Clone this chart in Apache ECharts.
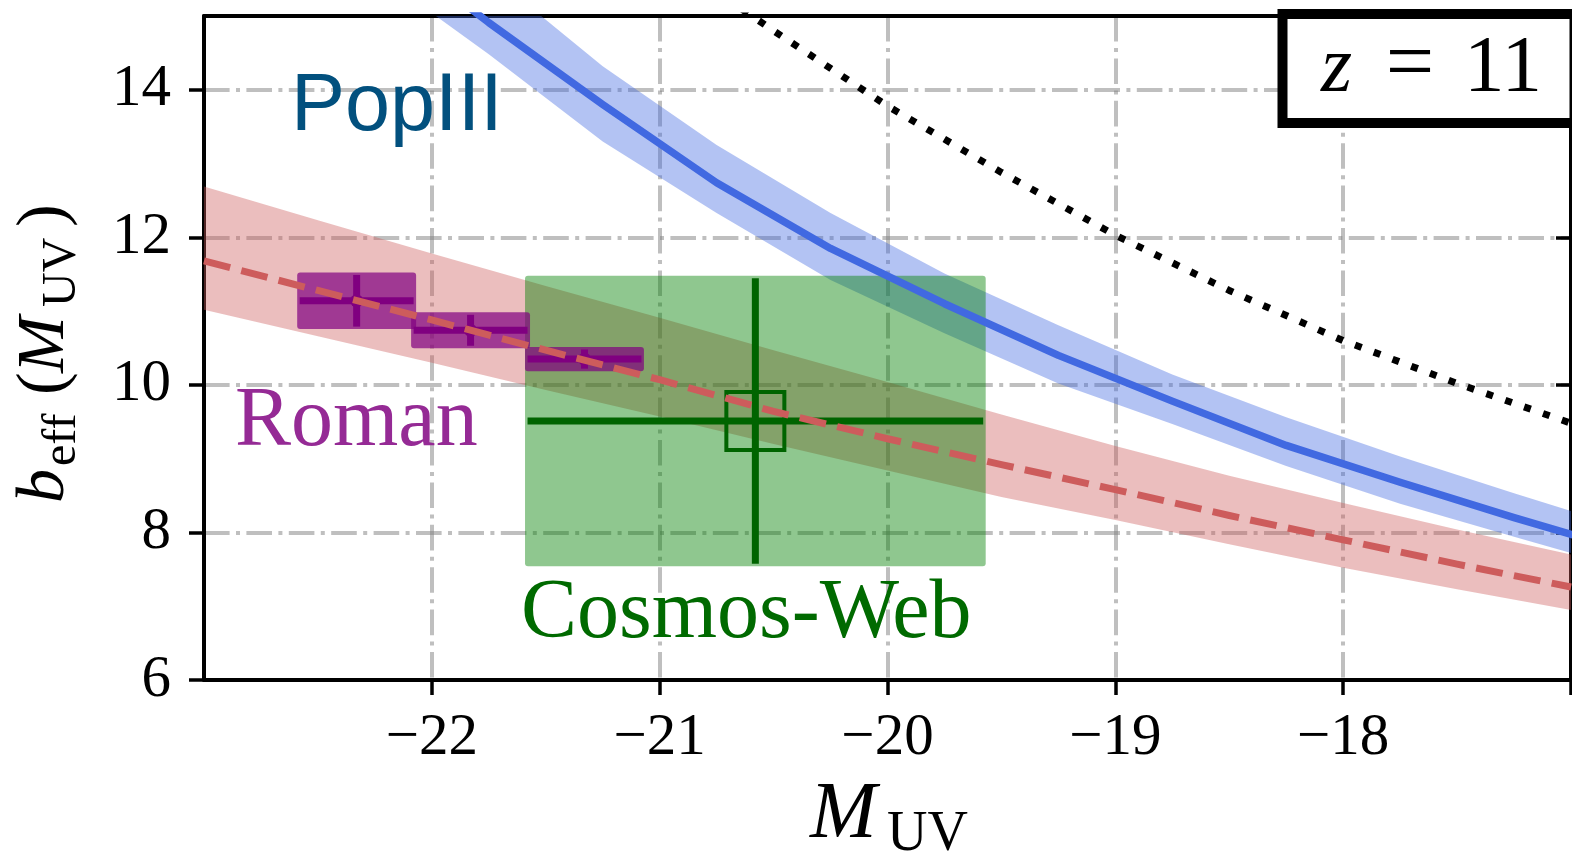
<!DOCTYPE html>
<html>
<head>
<meta charset="utf-8">
<script src="https://cdn.jsdelivr.net/npm/echarts@6/dist/echarts.min.js"></script>
<style>
  html, body { margin: 0; padding: 0; background: #ffffff; }
  #chart { width: 1572px; height: 854px; }
</style>
</head>
<body>
<div id="chart"></div>
<script>
// ---- PopIII model: effective bias vs M_UV with its uncertainty band ----
const popX   = [-22.25, -21.75, -21.25, -20.75, -20.25, -19.75, -19.25, -18.75, -18.25, -17.75, -17.25, -16.75];
const popMid = [16.10, 14.91, 13.80, 12.74, 11.85, 11.10, 10.40, 9.78, 9.18, 8.68, 8.20, 7.75];
const popHi  = [16.75, 15.58, 14.32, 13.25, 12.33, 11.51, 10.81, 10.14, 9.56, 9.03, 8.53, 8.05];
const popLo  = [15.60, 14.48, 13.30, 12.33, 11.42, 10.70, 10.02, 9.47, 8.90, 8.39, 7.94, 7.50];

// ---- baseline model (dashed red) with its band ----
const refX   = [-23, -22.5, -22, -21.5, -21, -20.5, -20, -19.5, -19, -18.5, -18, -17.5, -17];
const refMid = [11.68, 11.28, 10.88, 10.47, 10.07, 9.64, 9.27, 8.92, 8.58, 8.23, 7.90, 7.57, 7.26];
const refHi  = [12.69, 12.23, 11.78, 11.34, 10.91, 10.47, 10.04, 9.60, 9.17, 8.77, 8.40, 8.04, 7.70];
const refLo  = [11.02, 10.66, 10.30, 9.93, 9.57, 9.20, 8.84, 8.48, 8.17, 7.84, 7.52, 7.23, 6.95];

// ---- dotted upper curve ----
const limX = [-21.0, -20.5, -20.0, -19.5, -19.0, -18.5, -18.0, -17.5, -17.0];
const limY = [15.85, 14.80, 13.78, 12.88, 12.03, 11.28, 10.60, 10.02, 9.48];

// ---- Roman forecast points ----
const romanX    = [-22.33, -21.83, -21.33];
const romanY    = [11.14, 10.74, 10.35];
const romanXErr = [0.25, 0.25, 0.25];
const romanYErr = [0.35, 0.21, 0.13];

// ---- Cosmos-Web measurement ----
const cosmosX    = [-20.58];
const cosmosY    = [9.51];
const cosmosXErr = [1.00];
const cosmosYErr = [1.935];

// ---- axis ticks ----
const xTickValues  = [-22, -21, -20, -19, -18, -17];
const xLabelValues = [-22, -21, -20, -19, -18];
const yTickValues  = [6, 8, 10, 12, 14];

const SERIF = 'Liberation Serif';
const SANS = 'Liberation Sans';
const GRID_COLOR = 'rgba(128,128,128,0.5)';
const GRID_DASH = [25.6, 6.4, 4, 6.4];

const chart = echarts.init(document.getElementById('chart'), null, { renderer: 'canvas' });

function clipRect(params) {
  const c = params.coordSys;
  return { type: 'rect', shape: { x: c.x, y: c.y, width: c.width, height: c.height } };
}

function bandSeries(xs, lo, hi, fill, z) {
  return {
    type: 'custom', silent: true, clip: true, z: z,
    data: [[xs[0], lo[0]]],
    renderItem: function (params, api) {
      const pts = [];
      for (let i = 0; i < xs.length; i++) pts.push(api.coord([xs[i], hi[i]]));
      for (let i = xs.length - 1; i >= 0; i--) pts.push(api.coord([xs[i], lo[i]]));
      return { type: 'polygon', shape: { points: pts }, style: { fill: fill }, clipPath: clipRect(params) };
    }
  };
}

function zip4(a, b, c, d) { return a.map((v, i) => [v, b[i], c[i], d[i]]); }

// shaded rectangle spanning the error range (padded by a couple of pixels)
function boxSeries(data, fill, z) {
  return {
    type: 'custom', silent: true, clip: true, z: z,
    data: data,
    renderItem: function (params, api) {
      const x = api.value(0), y = api.value(1), ex = api.value(2), ey = api.value(3);
      const p0 = api.coord([x - ex, y + ey]);
      const p1 = api.coord([x + ex, y - ey]);
      const pad = 2.5;
      return {
        type: 'rect',
        shape: { x: p0[0] - pad, y: p0[1] - pad, width: p1[0] - p0[0] + 2 * pad, height: p1[1] - p0[1] + 2 * pad, r: 3 },
        style: { fill: fill }
      };
    }
  };
}

function errorSeries(data, color, width, squareSize, z) {
  return {
    type: 'custom', silent: true, clip: true, z: z,
    data: data,
    renderItem: function (params, api) {
      const x = api.value(0), y = api.value(1), ex = api.value(2), ey = api.value(3);
      const l = api.coord([x - ex, y]), r = api.coord([x + ex, y]);
      const t = api.coord([x, y + ey]), b = api.coord([x, y - ey]);
      const c = api.coord([x, y]);
      const st = { stroke: color, lineWidth: width, lineCap: 'butt', fill: null };
      const children = [
        { type: 'line', shape: { x1: l[0], y1: l[1], x2: r[0], y2: r[1] }, style: st },
        { type: 'line', shape: { x1: t[0], y1: t[1], x2: b[0], y2: b[1] }, style: st }
      ];
      if (squareSize) {
        children.push({
          type: 'rect',
          shape: { x: c[0] - squareSize / 2, y: c[1] - squareSize / 2, width: squareSize, height: squareSize },
          style: { stroke: color, lineWidth: 4, fill: null }
        });
      } else {
        children.push({ type: 'circle', shape: { cx: c[0], cy: c[1], r: 6.5 }, style: { fill: color } });
      }
      return { type: 'group', children: children };
    }
  };
}

function lineSeries(xs, ys, color, width, dash, z) {
  return {
    type: 'line', silent: true, clip: true, z: z,
    data: xs.map((x, i) => [x, ys[i]]),
    showSymbol: false, symbol: 'none', smooth: false,
    lineStyle: { color: color, width: width, type: dash, cap: 'butt', join: 'round' },
    emphasis: { disabled: true }
  };
}

// text placed by its baseline (canvas 'middle' sits ~0.305 em above the baseline)
function txt(text, left, baseline, size, family, color, italic, align) {
  return {
    type: 'text', x: left, y: baseline - 0.305 * size, z: 100,
    style: {
      text: text, fill: color,
      font: (italic ? 'italic ' : '') + size + 'px "' + family + '"',
      textAlign: align || 'left', textVerticalAlign: 'middle'
    }
  };
}

const F_Y = 68, F_YS = 48;
const yTitle = {
  type: 'group', x: 66, y: 503, rotation: Math.PI / 2, z: 100,
  children: [
    txt('b', 0, 0, F_Y, SERIF, '#000', true),
    txt('eff', 37, 11, F_YS, SERIF, '#000', false),
    txt('(', 108, 0, F_Y, SERIF, '#000', false),
    txt('M', 130, 0, F_Y, SERIF, '#000', true),
    txt('UV', 196, 11, F_YS, SERIF, '#000', false),
    txt(')', 276, 0, F_Y, SERIF, '#000', false)
  ]
};

const option = {
  animation: false,
  backgroundColor: '#ffffff',
  grid: { left: 204, right: 1, top: 16, bottom: 174, containLabel: false },
  xAxis: [
    {
      type: 'value', min: -23, max: -17, interval: 1, position: 'bottom',
      axisLine: { show: true, onZero: false, lineStyle: { color: '#000', width: 4 } },
      axisTick: { show: true, inside: false, length: 15, customValues: xTickValues, lineStyle: { color: '#000', width: 3.5 } },
      axisLabel: {
        show: true, margin: 29, customValues: xLabelValues,
        fontFamily: SERIF, fontSize: 59, color: '#000',
        formatter: function (v) { return (v < 0 ? '\u2212' : '') + Math.abs(v); }
      },
      splitLine: { show: true, lineStyle: { color: GRID_COLOR, width: 4, type: GRID_DASH } }
    },
    {
      type: 'value', min: -23, max: -17, interval: 1, position: 'top',
      axisLine: { show: true, onZero: false, lineStyle: { color: '#000', width: 4 } },
      axisTick: { show: false }, axisLabel: { show: false }, splitLine: { show: false }
    }
  ],
  yAxis: [
    {
      type: 'value', min: 6, max: 15, interval: 2, position: 'left',
      axisLine: { show: true, onZero: false, lineStyle: { color: '#000', width: 4 } },
      axisTick: { show: true, inside: false, length: 15, customValues: yTickValues, lineStyle: { color: '#000', width: 3.5 } },
      axisLabel: {
        show: true, margin: 33, customValues: yTickValues,
        fontFamily: SERIF, fontSize: 59, color: '#000'
      },
      splitLine: { show: true, lineStyle: { color: GRID_COLOR, width: 4, type: GRID_DASH } }
    },
    {
      type: 'value', min: 6, max: 15, interval: 2, position: 'right',
      axisLine: { show: true, onZero: false, lineStyle: { color: '#000', width: 4 } },
      axisTick: { show: true, inside: true, length: 15, customValues: yTickValues, lineStyle: { color: '#000', width: 3.5 } },
      axisLabel: { show: false }, splitLine: { show: false }
    }
  ],
  series: [
    bandSeries(refX, refLo, refHi, 'rgba(205,92,92,0.4)', 1),
    bandSeries(popX, popLo, popHi, 'rgba(65,105,225,0.4)', 1),
    boxSeries(zip4(cosmosX, cosmosY, cosmosXErr, cosmosYErr), 'rgba(0,128,0,0.44)', 2),
    boxSeries(zip4(romanX, romanY, romanXErr, romanYErr), 'rgba(128,0,128,0.7)', 3),
    errorSeries(zip4(cosmosX, cosmosY, cosmosXErr, cosmosYErr), '#006400', 7, 58, 4),
    errorSeries(zip4(romanX, romanY, romanXErr, romanYErr), '#800080', 7, 0, 4),
    lineSeries(refX, refMid, '#CD5C5C', 7, [27, 11.5], 5),
    lineSeries(popX, popMid, '#4169E1', 7.5, 'solid', 5),
    lineSeries(limX, limY, '#000000', 7, [7, 13], 5)
  ],
  graphic: [
    txt('PopIII', 291, 132, 81, SANS, '#02507e', false),
    txt('Roman', 235, 449, 84, SERIF, '#952a95', false),
    txt('Cosmos-Web', 521, 641, 84, SERIF, '#006a00', false),
    {
      type: 'rect', z: 100,
      shape: { x: 1282.5, y: 14, width: 292, height: 109 },
      style: { fill: '#ffffff', stroke: '#000000', lineWidth: 10 }
    },
    txt('z', 1321, 94, 80, SERIF, '#000', true),
    txt('=', 1410, 94, 86, SERIF, '#000', false, 'center'),
    txt('11', 1464, 94, 81, SERIF, '#000', false),
    txt('M', 810, 840, 80, SERIF, '#000', true),
    txt('UV', 887, 852, 56, SERIF, '#000', false),
    yTitle
  ]
};

chart.setOption(option);
</script>
</body>
</html>
